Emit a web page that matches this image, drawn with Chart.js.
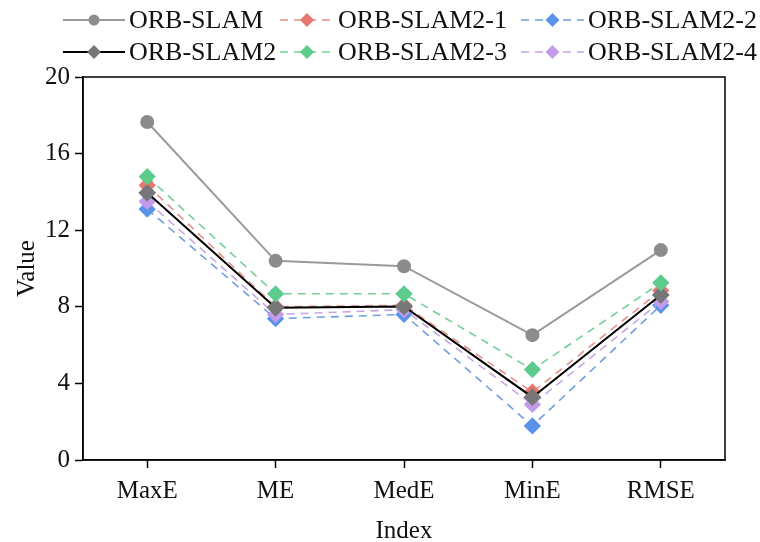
<!DOCTYPE html>
<html>
<head>
<meta charset="utf-8">
<script src="https://cdn.jsdelivr.net/npm/chart.js@4.4.1/dist/chart.umd.min.js"></script>
<style>
  html, body { margin: 0; padding: 0; background: #fff; }
  #wrap { width: 760px; height: 542px; }
</style>
</head>
<body>
<div id="wrap"><canvas id="chart" width="760" height="542"></canvas></div>
<script>
// Données
const categories = ['MaxE', 'ME', 'MedE', 'MinE', 'RMSE'];
const orbSlam   = [17.65, 10.4, 10.12, 6.52, 10.96];
const orbSlam2  = [13.95, 7.95, 8.02, 3.28, 8.62];
const orbSlam21 = [14.35, 8.0, 8.08, 3.55, 8.85];
const orbSlam22 = [13.1, 7.38, 7.6, 1.78, 8.08];
const orbSlam23 = [14.8, 8.68, 8.68, 4.72, 9.25];
const orbSlam24 = [13.5, 7.6, 7.85, 2.9, 8.28];
const yTicks = [0, 4, 8, 12, 16, 20];

const FONT = '"Liberation Serif", "Times New Roman", serif';

function serie(label, data, color, pointColor, dashed, style, order) {
    return {
        label: label,
        data: data,
        borderColor: color,
        backgroundColor: pointColor,
        pointBackgroundColor: pointColor,
        pointBorderColor: pointColor,
        pointStyle: style,
        pointRadius: style === 'circle' ? 6 : 7.5,
        borderWidth: dashed ? 1.6 : 2,
        borderDash: dashed ? [8, 6] : [],
        tension: 0,
        fill: false,
        order: order
    };
}

const datasets = [
    serie('ORB-SLAM', orbSlam, '#9a9a9a', '#8c8c8c', false, 'circle', 0),
    serie('ORB-SLAM2-1', orbSlam21, '#e8908a', '#e8776f', true, 'rectRot', 3),
    serie('ORB-SLAM2-2', orbSlam22, '#6f9ee0', '#5b93ea', true, 'rectRot', 5),
    serie('ORB-SLAM2', orbSlam2, '#000000', '#777777', false, 'rectRot', 2),
    serie('ORB-SLAM2-3', orbSlam23, '#72cf98', '#5ccb8c', true, 'rectRot', 1),
    serie('ORB-SLAM2-4', orbSlam24, '#c7a6e6', '#c29be9', true, 'rectRot', 4)
];

// Emplacements de la légende (2 lignes x 3 colonnes)
const legendSlots = [
    { x0: 63, x1: 125, y: 20 }, { x0: 280, x1: 334, y: 20 }, { x0: 521, x1: 584, y: 20 },
    { x0: 63, x1: 125, y: 52 }, { x0: 280, x1: 334, y: 52 }, { x0: 521, x1: 584, y: 52 }
];

const legendPlugin = {
    id: 'customLegend',
    afterDraw(chart) {
        const c = chart.ctx;
        chart.data.datasets.forEach((ds, i) => {
            const s = legendSlots[i];
            c.save();
            c.strokeStyle = ds.borderColor;
            c.lineWidth = ds.borderWidth;
            c.setLineDash(ds.borderDash);
            c.beginPath();
            c.moveTo(s.x0, s.y);
            c.lineTo(s.x1, s.y);
            c.stroke();
            c.setLineDash([]);
            c.fillStyle = ds.pointBackgroundColor;
            const mx = (s.x0 + s.x1) / 2;
            c.beginPath();
            if (ds.pointStyle === 'circle') {
                c.arc(mx, s.y, 5.5, 0, Math.PI * 2);
            } else {
                c.moveTo(mx, s.y - 7); c.lineTo(mx + 7, s.y);
                c.lineTo(mx, s.y + 7); c.lineTo(mx - 7, s.y);
                c.closePath();
            }
            c.fill();
            c.fillStyle = '#111';
            c.font = '26px ' + FONT;
            c.textBaseline = 'middle';
            c.fillText(ds.label, s.x1 + 4, s.y + 1);
            c.restore();
        });
    }
};

const boxPlugin = {
    id: 'box',
    afterDatasetsDraw(chart) {
        const a = chart.chartArea;
        const c = chart.ctx;
        c.save();
        c.strokeStyle = '#000';
        c.lineWidth = 1.5;
        c.strokeRect(a.left, a.top, a.right - a.left, a.bottom - a.top);
        c.restore();
    }
};

new Chart(document.getElementById('chart'), {
    type: 'line',
    data: { labels: categories, datasets: datasets },
    options: {
        responsive: false,
        animation: false,
        layout: { padding: { top: 77, right: 35, left: 0, bottom: 0 } },
        plugins: {
            legend: { display: false },
            tooltip: { enabled: false }
        },
        scales: {
            x: {
                offset: true,
                grid: { display: true, drawOnChartArea: false, tickLength: 8, tickColor: '#000', tickWidth: 1.5, offset: false },
                border: { color: '#000', width: 1.5 },
                ticks: { color: '#111', font: { family: FONT, size: 25 }, padding: 8 },
                title: { display: true, text: 'Index', color: '#111', font: { family: FONT, size: 25 }, padding: { top: 14, bottom: -4 } },
                afterFit(scale) { scale.height = 82; }
            },
            y: {
                min: 0,
                max: 20,
                afterBuildTicks(scale) { scale.ticks = yTicks.map(v => ({ value: v })); },
                grid: { display: true, drawOnChartArea: false, tickLength: 8, tickColor: '#000', tickWidth: 1.5 },
                border: { color: '#000', width: 1.5 },
                ticks: { color: '#111', font: { family: FONT, size: 25 }, padding: 5 },
                title: { display: true, text: 'Value', color: '#111', font: { family: FONT, size: 25 }, padding: { top: 12, bottom: 14 } },
                afterFit(scale) { scale.width = 83; }
            }
        }
    },
    plugins: [legendPlugin, boxPlugin]
});
</script>
</body>
</html>
